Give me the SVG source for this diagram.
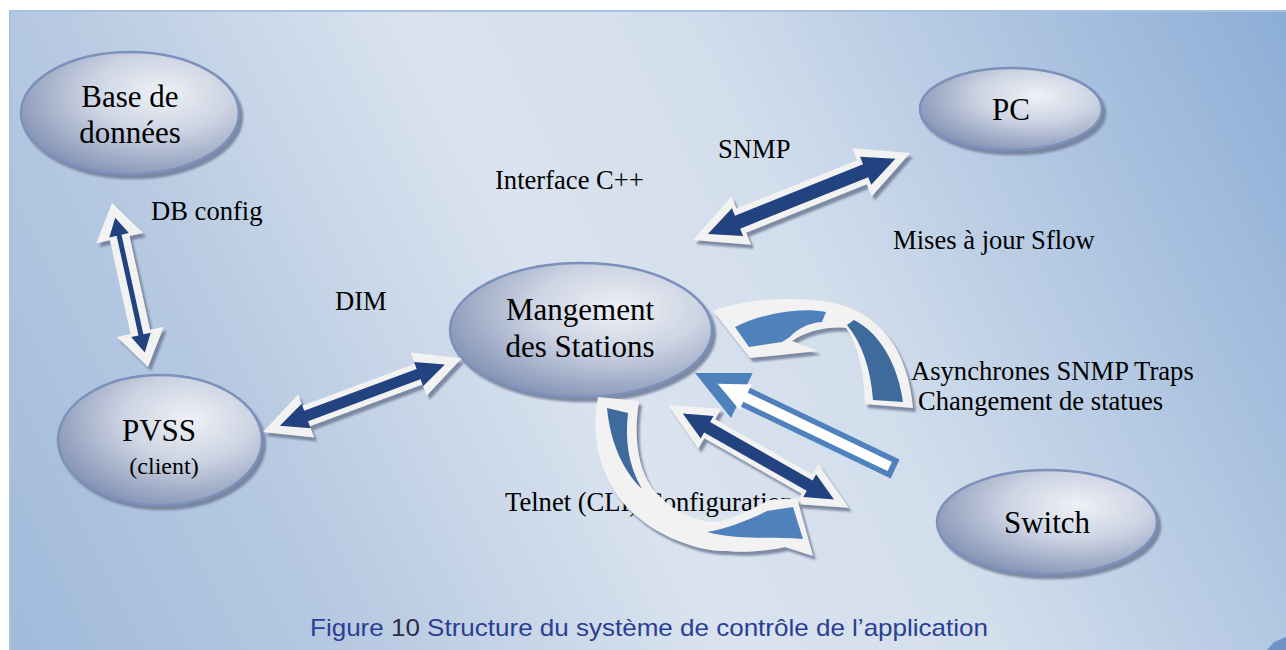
<svg xmlns="http://www.w3.org/2000/svg" width="1286" height="650" viewBox="0 0 1286 650">
<defs>
  <linearGradient id="bg" gradientUnits="userSpaceOnUse" x1="0" y1="650" x2="1286" y2="0">
    <stop offset="0" stop-color="#a0badb"/>
    <stop offset="0.22" stop-color="#b6c9e1"/>
    <stop offset="0.45" stop-color="#dae3ef"/>
    <stop offset="0.62" stop-color="#d3deec"/>
    <stop offset="1" stop-color="#8badd6"/>
  </linearGradient>
  <radialGradient id="ell" cx="0.64" cy="0.34" r="0.72" fx="0.64" fy="0.34">
    <stop offset="0" stop-color="#eef1f6"/>
    <stop offset="0.45" stop-color="#ccd3e2"/>
    <stop offset="1" stop-color="#8392b5"/>
  </radialGradient>
  <filter id="ds" x="-20%" y="-20%" width="140%" height="140%">
    <feGaussianBlur in="SourceAlpha" stdDeviation="0.8"/>
    <feOffset dx="3" dy="4" result="o"/>
    <feFlood flood-color="#6e7b97" flood-opacity="0.85"/>
    <feComposite in2="o" operator="in"/>
    <feMerge><feMergeNode/><feMergeNode in="SourceGraphic"/></feMerge>
  </filter>
  <style>
    .node ellipse { fill: url(#ell); stroke: #7b90b9; stroke-width: 2.5; }
    .nt { font-family: "Liberation Serif", "Times New Roman", serif; font-size: 31px; fill: #000; text-anchor: middle; }
    .lb { font-family: "Liberation Serif", "Times New Roman", serif; font-size: 26.6px; fill: #000; }
    .wo { fill: #f2f2f2; }
    .dk { fill: #234280; }
    .cl { fill: #4f81bd; }
    .cd { fill: #3e6a9c; }
  </style>
</defs>

<rect x="10" y="11" width="1290" height="660" fill="url(#bg)" stroke="#a9c1e1" stroke-width="2"/>

<g id="node-db" class="node" filter="url(#ds)">
  <ellipse cx="130" cy="113" rx="109" ry="61"/>
</g>
<g id="node-pc" class="node" filter="url(#ds)">
  <ellipse cx="1011" cy="109" rx="91" ry="41"/>
</g>
<g id="node-mgmt" class="node" filter="url(#ds)">
  <ellipse cx="581" cy="330" rx="131" ry="67"/>
</g>
<g id="node-pvss" class="node" filter="url(#ds)">
  <ellipse cx="160" cy="440" rx="102" ry="65"/>
</g>
<g id="node-switch" class="node" filter="url(#ds)">
  <ellipse cx="1047" cy="522" rx="110" ry="52"/>
</g>

<text class="lb" x="505" y="511">Telnet (CLI) Configuration</text>

<g id="connectors">
  <!-- DB config -->
  <g filter="url(#ds)">
    <g transform="translate(112,203) rotate(77.62)">
      <path class="wo" d="M0,0 L36,-24 L36,-10 L132,-10 L132,-24 L168,0 L132,24 L132,10 L36,10 L36,24 Z"/>
      <path class="dk" d="M15,0 L33,-10 L33,-2.5 L135,-2.5 L135,-10 L153,0 L135,10 L135,2.5 L33,2.5 L33,10 Z"/>
    </g>
  </g>
  <!-- DIM -->
  <g filter="url(#ds)">
    <g transform="translate(263,432) rotate(-20.39)">
      <path class="wo" d="M0,0 L46,-23 L46,-11 L166,-11 L166,-23 L212,0 L166,23 L166,11 L46,11 L46,23 Z"/>
      <path class="dk" d="M18,0 L46,-13 L46,-5.5 L166,-5.5 L166,-13 L194,0 L166,13 L166,5.5 L46,5.5 L46,13 Z"/>
    </g>
  </g>
  <!-- SNMP -->
  <g filter="url(#ds)">
    <g transform="translate(693,240) rotate(-21.85)">
      <path class="wo" d="M0,0 L52,-26 L52,-13 L182,-13 L182,-26 L234,0 L182,26 L182,13 L52,13 L52,26 Z"/>
      <path class="dk" d="M16,0 L48,-15 L48,-7 L186,-7 L186,-15 L218,0 L186,15 L186,7 L48,7 L48,15 Z"/>
    </g>
  </g>
  <!-- Telnet double arrow -->
  <g filter="url(#ds)">
    <g transform="translate(668,405) rotate(29.64)">
      <path class="wo" d="M0,0 L48,-23 L48,-11 L160,-11 L160,-23 L208,0 L160,23 L160,11 L48,11 L48,23 Z"/>
      <path class="dk" d="M17,0 L45,-13 L45,-6 L163,-6 L163,-13 L191,0 L163,13 L163,6 L45,6 L45,13 Z"/>
    </g>
  </g>
  <!-- Traps single arrow -->
  <g transform="translate(695,373) rotate(25.64)">
    <path fill="#4f81bd" d="M0,0 L52,-25 L52,-10.5 L222,-10.5 L222,10.5 L52,10.5 L52,25 Z"/>
    <path fill="#ffffff" d="M25,0 L56,-14 L56,-5 L216,-5 L216,5 L56,5 L56,14 Z"/>
  </g>
  <!-- Upper curved arrow -->
  <g filter="url(#ds)">
    <path class="wo" d="M713,311 C745,299 790,296 830,302 C880,312 908,350 913,408 L865,404 C864,372 858,345 846,328 C825,326 805,332 792,341 L818,351 L750,358 Z"/>
  </g>
  <path class="cl" d="M735,327 C763,313 800,307 826,312 L822,322 C808,323 797,329 790,337 L782,342 L749,347 Z"/>
  <path class="cd" d="M847,325 L854,320 C880,333 898,365 903,402 L873,400 C871,370 862,343 847,325 Z"/>
  <!-- Lower curved arrow -->
  <g filter="url(#ds)">
    <path class="wo" d="M598,397 L639,401 C634,432 636,465 652,488 C668,508 690,520 712,522 C735,520 752,508 770,500 L797,498 L813,556 L785,547 C760,553 720,553 700,548 C650,535 615,505 602,465 C594,440 594,420 598,397 Z"/>
  </g>
  <path class="cd" d="M607,408 L628,413 C625,440 628,465 642,489 C622,470 610,440 607,408 Z"/>
  <path class="cl" d="M707,532 C730,528 750,519 767,511 L793,507 L803,539 C775,536 740,541 707,532 Z"/>
</g>

<g id="node-texts">
  <text class="nt" x="130" y="107">Base de</text>
  <text class="nt" x="130" y="143">données</text>
  <text class="nt" x="1011" y="120">PC</text>
  <text class="nt" x="580" y="320">Mangement</text>
  <text class="nt" x="580" y="357">des Stations</text>
  <text class="nt" x="159" y="441">PVSS</text>
  <text class="nt" x="164" y="474" style="font-size:24px">(client)</text>
  <text class="nt" x="1047" y="533">Switch</text>
</g>

<g id="labels">
  <text class="lb" x="151" y="220">DB config</text>
  <text class="lb" x="495" y="189">Interface C++</text>
  <text class="lb" x="718" y="158">SNMP</text>
  <text class="lb" x="893" y="249">Mises à jour Sflow</text>
  <text class="lb" x="335" y="310">DIM</text>
  <text class="lb" x="911" y="380">Asynchrones SNMP Traps</text>
  <text class="lb" x="918" y="410">Changement de statues</text>
</g>

<text x="310" y="636" font-family="Liberation Sans, Arial, sans-serif" font-size="24" fill="#2b3f92" textLength="678" lengthAdjust="spacingAndGlyphs">Figure <tspan fill="#2a2d45">10</tspan>  Structure du système de contrôle de l’application</text>

<polygon points="1267,650 1274,642 1286,637 1286,650" fill="#6f93c6"/>
</svg>
